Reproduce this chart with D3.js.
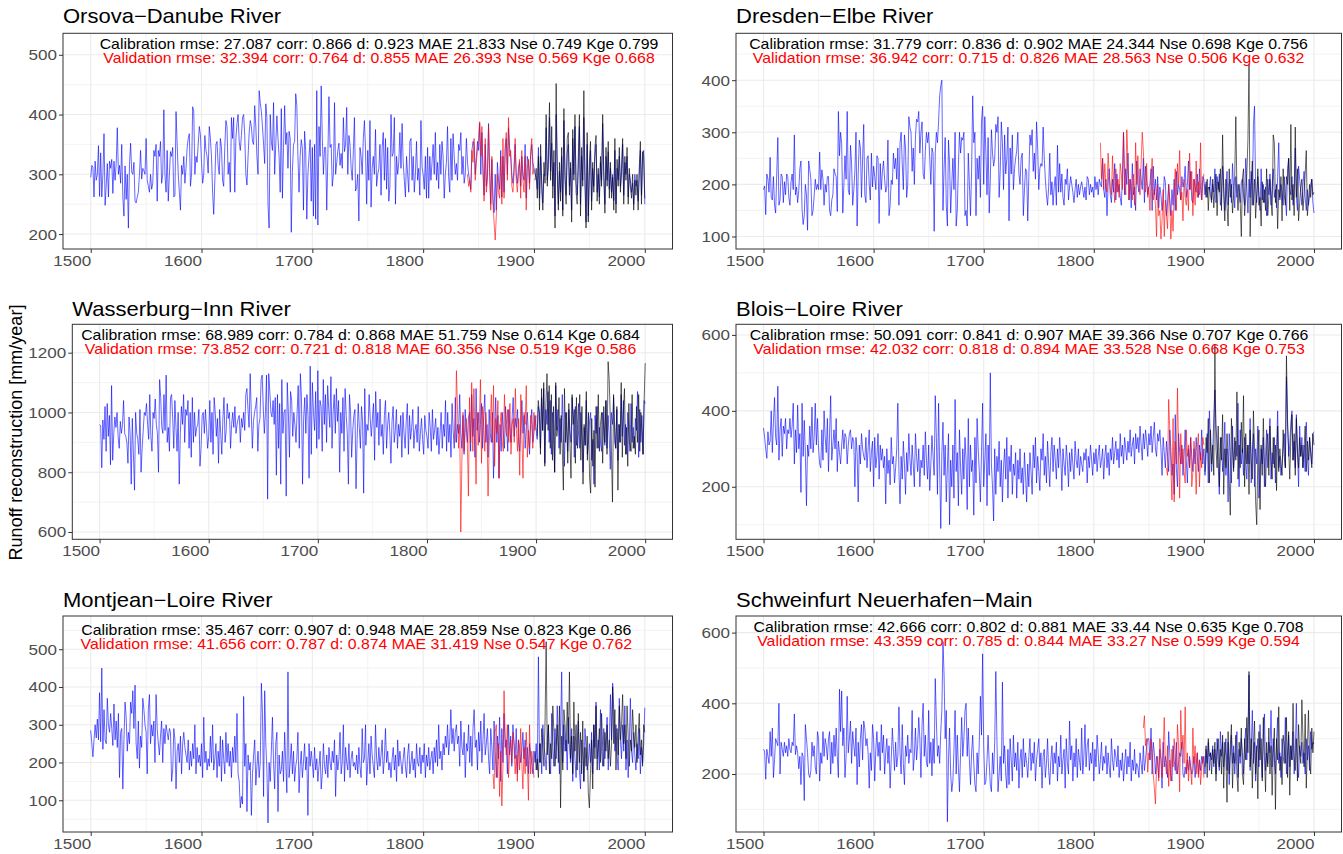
<!DOCTYPE html>
<html><head><meta charset="utf-8">
<script src="https://cdn.jsdelivr.net/npm/d3@7"></script>
<style>body{margin:0;background:#fff}svg text{font-family:"Liberation Sans",Arial,Helvetica,sans-serif}</style>
</head><body><svg id="c" width="1343" height="854"></svg>
<script>
// ---------------- DATA ----------------
const titles = ["Orsova\u2212Danube River","Dresden\u2212Elbe River","Wasserburg\u2212Inn River","Blois\u2212Loire River","Montjean\u2212Loire River","Schweinfurt Neuerhafen\u2212Main"];
const calStats = [
"Calibration rmse: 27.087 corr: 0.866 d: 0.923 MAE 21.833 Nse 0.749 Kge 0.799",
"Calibration rmse: 31.779 corr: 0.836 d: 0.902 MAE 24.344 Nse 0.698 Kge 0.756",
"Calibration rmse: 68.989 corr: 0.784 d: 0.868 MAE 51.759 Nse 0.614 Kge 0.684",
"Calibration rmse: 50.091 corr: 0.841 d: 0.907 MAE 39.366 Nse 0.707 Kge 0.766",
"Calibration rmse: 35.467 corr: 0.907 d: 0.948 MAE 28.859 Nse 0.823 Kge 0.86",
"Calibration rmse: 42.666 corr: 0.802 d: 0.881 MAE 33.44 Nse 0.635 Kge 0.708"];
const valStats = [
"Validation rmse: 32.394 corr: 0.764 d: 0.855 MAE 26.393 Nse 0.569 Kge 0.668",
"Validation rmse: 36.942 corr: 0.715 d: 0.826 MAE 28.563 Nse 0.506 Kge 0.632",
"Validation rmse: 73.852 corr: 0.721 d: 0.818 MAE 60.356 Nse 0.519 Kge 0.586",
"Validation rmse: 42.032 corr: 0.818 d: 0.894 MAE 33.528 Nse 0.668 Kge 0.753",
"Validation rmse: 41.656 corr: 0.787 d: 0.874 MAE 31.419 Nse 0.547 Kge 0.762",
"Validation rmse: 43.359 corr: 0.785 d: 0.844 MAE 33.27 Nse 0.599 Kge 0.594"];
const reconStart = 1500;
const calStart = 1901;
const valStart = [1840, 1806, 1826, 1866, 1863, 1845];
const xTicks = [1500,1600,1700,1800,1900,2000];
const yTicks = [[200,300,400,500],[100,200,300,400],[600,800,1000,1200],[200,400,600],[100,200,300,400,500],[200,400,600]];
const yLabel = "Runoff reconstruction [mm/year]";

const orsovaRecon = [
295,315,312,262,322,290,300,348,263,336,
262,300,368,248,282,318,262,322,310,325,
268,322,290,318,378,300,315,285,350,262,
230,314,258,300,210,316,352,304,300,320,
255,252,262,270,300,340,292,310,306,300,
360,290,280,270,300,275,285,340,330,350,
255,340,330,355,285,300,408,300,270,340,
255,300,338,330,345,262,265,405,350,300,
270,240,315,300,330,285,310,344,360,368,
280,300,413,405,300,330,320,350,380,366,
320,285,300,365,340,330,302,380,360,330,
270,233,288,350,355,315,300,360,345,290,
280,345,390,380,300,320,270,395,360,395,
270,360,385,400,355,340,365,395,400,365,
300,282,330,370,390,380,355,350,415,380,
330,300,440,420,405,380,350,318,418,395,
250,210,400,355,340,420,300,350,398,360,
330,270,410,260,345,415,350,370,310,372,
360,203,305,350,355,435,415,330,270,330,
358,343,240,372,340,225,300,330,358,255,
345,230,350,225,440,215,380,330,448,360,
300,345,345,240,330,430,345,350,280,300,
420,300,320,340,352,315,335,310,395,338,
350,412,300,365,350,310,290,340,395,272,
278,300,222,345,330,300,360,390,340,250,
340,290,390,245,310,330,300,375,280,300,
310,350,265,345,370,290,360,275,345,255,
280,400,330,335,395,250,330,300,320,370,
310,385,320,290,262,330,300,270,355,360,
290,330,270,300,355,290,310,265,390,312,
300,275,330,260,345,260,330,290,320,350,
300,370,290,320,276,350,300,355,330,260,
300,320,380,296,270,360,290,368,330,300,
318,290,350,340,370,300,330,285,300,360,
320,300,290,275,340,355,348,300,330,355,
340,385,300,370,310,265,350,280,300,385,
310,250,325,260,236,300,240,320,290,275,
340,262,330,270,340,360,300,378,345,330,
300,285,310,350,300,285,310,320,280,330,
300,290,350,260,330,320,285,330,350,320,
310,300,295,275,345,260,330,290,252,300,
298,378,290,312,395,305,352,280,320,230,
400,315,250,305,270,330,240,390,300,265,
335,350,280,310,240,360,300,380,285,265,
310,380,250,330,290,395,300,220,350,230,
300,340,255,310,280,330,350,270,300,262,
320,290,385,300,250,330,290,338,275,310,
270,300,256,340,250,310,290,330,280,300,
350,265,320,300,330,262,300,290,270,285,
250,300,280,290,255,300,340,265,330,340,
250];
const orsovaCal = [
290,310,260,330,240,350,275,240,320,285,
400,280,330,420,290,380,260,340,210,452,
300,240,320,255,345,230,410,290,250,360,
370,265,320,220,375,290,400,270,250,330,
400,230,345,280,440,285,210,370,220,320,
355,240,320,270,345,365,255,310,250,330,
280,400,300,235,345,280,355,260,320,260,
295,240,360,235,325,280,345,270,310,360,
250,330,290,345,250,310,280,260,300,240,
290,265,300,240,310,355,250,338,330,260];
const orsovaVal = [
300,280,290,270,340,320,360,290,320,340,
360,388,330,380,300,255,360,270,290,380,
300,240,330,250,220,190,230,300,270,260,
330,250,360,260,345,370,290,395,330,340,
280,270,300,360,290,270,300,325,260,340,
290,270,330,240,310,325,275,340,360,300,
310];

const dresdenRecon = [
190,197,142,220,210,185,252,175,170,215,
160,145,220,290,160,170,220,215,165,205,
180,220,215,175,160,205,220,190,295,180,
195,165,188,230,245,152,123,140,200,180,
112,245,228,210,140,150,178,210,190,200,
190,262,190,228,210,160,200,185,215,215,
150,140,170,180,230,220,215,148,340,255,
300,278,145,200,255,210,340,190,180,275,
240,160,190,225,300,120,220,285,270,175,
250,315,180,165,250,255,200,170,260,195,
235,215,190,255,250,125,240,190,225,245,
210,185,195,285,140,160,208,200,260,230,
250,210,270,160,280,300,240,190,295,270,
175,200,330,310,300,225,270,200,290,325,
320,340,260,300,320,220,210,265,300,280,
300,250,200,270,260,110,260,300,280,320,
370,390,400,150,230,290,160,120,285,240,
145,200,250,190,300,120,150,235,300,260,
290,285,300,140,150,120,260,200,140,225,
370,280,300,140,250,210,255,175,320,350,
200,330,260,180,290,145,210,305,260,235,
250,315,300,330,175,225,320,280,190,295,
220,250,310,130,270,220,295,190,230,250,
265,300,220,200,250,260,140,190,230,225,
130,215,295,275,305,225,260,210,320,270,
190,230,240,235,310,250,210,180,160,195,
260,180,205,160,195,215,160,275,185,240,
185,220,175,160,210,200,230,170,195,215,
200,185,165,190,210,175,200,180,195,205,
190,175,195,170,215,210,180,200,185,195,
175,215,190,205,180,210,200,195,250,190,
175,210,140,200,230,180,165,210,185,240,
170,220,185,200,175,160,215,300,180,230,
200,260,170,210,155,240,180,195,150,245,
200,185,230,210,190,250,165,235,205,180,
195,200,230,150,235,180,210,170,215,155,
195,180,150,170,215,205,140,165,200,170,
140,190,160,210,150,225,180,200,190,170,
215,195,205,235,175,200,245,190,225,170,
165,210,195,185,220,175,230,190,170,215,
210,180,205,175,195,190,215,170,200,185,
230,165,215,190,220,160,175,235,200,150,
180,225,160,200,210,165,240,190,155,215,
175,200,185,165,205,210,180,160,250,195,
145,210,175,225,160,315,350,190,165,215,
185,150,230,170,200,165,195,140,210,180,
220,160,195,230,175,190,155,215,280,170,
200,185,160,215,175,140,230,250,190,180,
215,160,195,270,175,150,235,210,185,160,
200,225,175,150,190,160,180,200,210,165,
145];
const dresdenCal = [
200,175,210,150,195,180,165,210,155,190,
220,140,205,185,230,150,295,180,130,210,
160,120,230,175,200,145,180,215,330,190,
150,200,165,100,210,230,140,175,220,285,
430,100,200,245,160,210,135,180,230,160,
175,120,205,165,190,150,230,140,175,210,
170,140,295,280,165,200,115,190,175,215,
130,230,180,160,215,200,250,150,315,170,
200,140,310,175,230,130,165,195,210,150,
180,220,265,140,165,200,175,210,180,185];
const dresdenVal = [
280,210,250,190,240,200,185,260,220,190,
180,255,200,165,230,185,210,175,240,220,
190,300,210,180,305,250,170,210,195,170,
220,160,280,200,255,200,180,240,300,265,
210,185,240,175,195,150,210,250,170,190,
160,100,200,140,150,95,130,190,100,170,
140,115,200,170,95,150,110,180,230,150,
240,200,265,170,185,130,210,175,160,190,
150,260,190,225,140,210,160,245,175,205,
180,280,170,200,220];

const wasserRecon = [
960,955,815,975,910,1020,870,1030,920,990,
825,1090,840,930,985,950,1000,920,880,970,
930,960,1040,930,920,900,830,985,930,760,
980,860,740,1000,930,910,860,1010,800,880,
940,1000,990,1030,960,910,1060,920,870,1000,
980,1045,960,930,800,1110,1050,950,930,1060,
940,1125,900,950,870,1050,1060,980,880,1040,
950,870,1000,760,930,1020,960,1060,900,1010,
990,1040,880,1000,850,1050,900,1000,920,950,
960,1010,820,880,990,1000,930,1010,950,880,
920,1040,900,1000,860,1050,1000,920,980,830,
1010,930,860,980,1050,900,940,1030,980,1000,
880,960,1000,950,1020,930,960,980,990,900,
980,950,1000,940,1060,1080,1010,950,1130,1000,
880,970,1000,1020,1050,870,960,980,1110,1125,
1015,930,1000,1125,710,1130,1070,1000,985,1040,
960,1050,790,1060,880,1030,760,1110,930,1000,
1010,720,1100,1000,850,1070,1040,920,1000,960,
900,1000,1090,880,1130,1050,760,980,1050,930,
1060,990,780,1155,860,1100,1000,940,1070,880,
1140,910,1040,1020,870,1110,960,1060,900,1090,
1010,950,1120,880,1000,1060,930,1080,970,1040,
800,1000,930,1050,870,1080,990,930,760,1060,
1000,850,940,990,1010,745,910,1030,950,880,
1020,970,730,1080,890,960,940,1060,980,920,
980,1030,840,1070,950,1000,890,1045,920,960,
860,990,1040,880,960,1000,930,830,970,1020,
900,940,1010,880,960,920,990,850,1000,930,
880,970,1030,860,990,910,950,1010,880,940,
960,900,1020,870,930,980,910,860,990,940,
920,880,1000,950,870,1010,910,940,980,890,
950,860,930,1000,880,960,920,1040,870,1000,
900,960,850,1030,940,880,1050,900,960,930,
1060,930,880,990,860,1010,950,900,980,1000,
870,1060,920,980,850,1080,940,1000,900,960,
1030,880,990,1060,900,960,850,1010,930,900,
1000,780,940,1050,900,990,780,960,870,1000,
930,880,1020,960,870,1010,940,900,980,1050,
920,980,950,1010,900,870,960,1040,930,990,
880,950,1000,920,860,960,1010,900,930,990,
950,910,1020,1000,880,1050,940,1080,830,1010,
960,1070,900,1040,860,1000,920,800,1090,940,
1010,880,980,900,1060,920,820,1000,940,870,
1010,940,900,1050,980,850,1020,890,960,1030,
880,1000,920,800,950,890,1040,860,900,970,
1000,840,910,760,990,930,1020,880,950,900,
870,1000,940,890,1040,880,990,920,810,1000,
960,1050,900,880,1010,840,960,900,1060,920,
1040,890,960,860,1000,930,870,1030,900,950,
880,980,940,1070,850,1010,900,990,860,1040,
1030];
const wasserCal = [
920,1040,1000,860,1080,940,1100,820,1030,1130,
940,1090,880,1060,840,1020,800,1100,920,960,
1050,860,990,880,740,1080,900,1000,830,1030,
900,780,1060,960,1010,830,1050,880,940,1060,
840,1020,760,960,890,1070,840,1000,780,730,
980,820,940,750,1020,880,1060,870,960,1000,
830,1020,900,1040,860,1170,1110,980,870,700,
1060,950,880,1020,740,960,900,1100,850,1000,
1080,860,950,820,1030,900,870,1060,880,920,
860,1020,900,1060,870,1000,940,860,1040,1165];
const wasserVal = [
900,1140,1010,880,960,600,840,1000,870,930,
980,900,720,1050,900,1100,870,1080,930,760,
1000,890,960,1110,830,1020,960,870,1000,940,
720,890,960,1060,900,1090,820,980,930,1040,
780,960,1000,900,870,1060,950,920,1010,900,
1030,860,960,980,900,1080,940,870,980,790,
1060,920,780,1000,960,1090,850,940,880,990,
960,880,1000,940,990];

const bloisRecon = [
355,330,300,275,345,310,320,400,290,370,
435,330,310,465,270,350,380,280,360,340,
380,300,350,340,380,330,360,420,260,350,
290,415,300,340,185,420,280,375,290,150,
310,280,360,300,410,290,330,420,310,380,
300,260,250,350,270,400,330,290,380,240,
340,440,270,310,350,300,380,240,320,290,
260,310,350,300,340,330,260,310,340,350,
300,330,320,200,330,290,160,310,260,340,
300,280,270,330,250,300,350,240,290,320,
200,330,250,280,340,220,310,270,300,250,
280,155,300,235,270,205,330,260,280,210,
250,300,420,240,155,280,220,320,260,180,
290,240,340,270,230,310,260,200,340,280,
240,300,200,270,250,310,230,345,270,220,
310,190,260,335,280,230,440,330,180,420,
250,90,290,370,230,310,160,250,340,100,
270,200,310,170,430,240,290,150,350,250,
180,300,220,330,270,140,380,200,310,240,
270,125,330,210,380,300,240,160,290,420,
200,270,340,150,310,230,500,260,200,110,
300,180,280,240,320,200,270,160,250,300,
220,330,170,280,240,310,180,260,230,290,
170,270,220,300,210,250,180,290,230,160,
260,200,290,240,180,310,250,330,210,280,
240,190,300,270,340,230,280,210,320,260,
200,290,330,240,310,270,220,300,250,330,
280,190,300,260,230,310,270,200,290,240,
300,260,220,320,270,250,300,230,280,260,
240,290,270,300,210,280,250,310,270,230,
290,260,300,240,280,310,250,270,300,220,
280,310,250,290,230,300,270,330,260,290,
320,270,300,250,340,280,310,260,330,300,
270,320,290,350,280,310,330,260,340,300,
330,290,360,310,270,340,300,350,320,280,
340,310,360,290,330,370,300,280,340,320,
350,300,230,330,290,250,320,280,240,350,
300,230,260,180,390,250,200,340,290,260,
310,230,280,350,270,210,300,250,330,280,
240,300,260,330,280,240,310,270,350,260,
300,230,280,340,210,400,320,240,290,380,
455,360,310,260,180,300,330,240,280,370,
230,300,160,340,280,210,360,250,300,320,
280,420,200,350,260,300,230,330,270,220,
310,260,380,210,290,340,200,300,260,360,
170,230,300,260,330,200,280,350,250,300,
380,220,290,260,330,210,300,400,250,280,
230,260,300,340,250,490,380,280,310,370,
400,270,320,250,390,300,200,360,280,330,
250,310,240,370,280,230,330,290,260,340,
345];
const bloisCal = [
240,330,290,380,210,350,260,310,230,575,
300,250,360,200,330,270,390,180,300,250,
340,280,220,125,380,300,240,330,270,450,
220,310,250,370,290,440,200,340,260,310,
180,350,270,220,400,300,160,100,280,350,
140,310,230,380,260,200,300,340,230,360,
270,220,330,250,310,190,360,240,300,260,
230,350,280,250,545,360,300,220,330,390,
270,340,230,380,290,250,330,280,310,250,
300,360,240,320,270,330,290,250,340,310];
const bloisVal = [
250,230,430,350,250,165,380,160,320,260,
460,300,170,340,260,300,240,210,350,280,
310,250,330,200,240,320,280,180,300,340,
200,290,250,330,310];

const montRecon = [
285,250,215,260,300,265,315,260,385,255,
450,235,340,260,250,370,300,280,330,290,
245,355,260,310,240,330,160,280,290,130,
260,360,320,230,280,250,360,330,390,290,
405,250,210,310,185,270,240,370,340,300,
280,170,340,380,250,300,270,310,200,380,
290,250,220,270,310,200,290,250,300,280,
260,290,280,150,180,290,260,130,230,250,
200,270,170,250,280,240,220,200,260,180,
230,190,250,210,300,170,240,200,220,190,
250,160,320,200,230,180,210,190,270,200,
300,180,210,250,160,230,190,270,150,260,
210,170,280,200,250,190,230,160,240,200,
270,200,330,170,150,80,110,90,375,190,
250,70,220,180,200,60,170,220,260,140,
190,230,160,200,410,330,110,390,250,180,
40,200,150,230,320,200,130,250,280,70,
220,170,180,230,150,280,200,120,440,160,
200,250,170,230,150,190,210,280,120,190,
230,160,200,250,180,215,60,250,190,230,
200,160,240,180,210,150,190,230,130,170,
250,190,170,220,160,240,200,180,230,200,
260,110,220,180,210,280,170,200,300,150,
240,200,180,250,160,210,230,190,200,180,
220,170,240,190,160,290,200,210,300,140,
200,250,170,270,220,190,160,300,210,180,
240,190,220,260,170,210,290,200,230,180,
200,160,210,240,180,220,150,260,190,230,
200,170,210,240,190,160,220,250,170,200,
230,180,210,160,250,200,190,240,170,220,
200,250,160,220,190,240,180,210,230,170,
240,200,260,190,300,210,230,180,250,220,
270,240,300,220,260,340,250,290,230,280,
300,250,270,190,310,240,220,280,160,250,
230,300,200,270,190,290,340,240,260,180,
280,230,310,200,260,330,220,250,290,210,
170,290,240,180,310,230,160,270,210,320,
150,290,200,330,240,260,170,300,220,270,
190,300,250,210,290,170,260,240,200,230,
280,210,260,190,240,170,250,220,200,170,
230,200,250,180,480,200,250,170,300,240,
220,180,260,300,200,170,330,240,190,290,
210,350,250,170,280,440,200,300,230,260,
180,320,240,200,290,150,270,210,160,250,
310,180,130,260,220,150,290,240,180,200,
250,200,280,170,300,240,360,210,260,180,
340,230,190,290,210,260,320,180,250,380,
260,410,340,230,300,220,180,370,260,210,
300,230,350,180,260,160,250,370,230,200,
280,220,180,250,210,290,170,240,200,250,
345];
const montCal = [
230,180,210,160,250,200,290,240,190,310,
520,220,300,170,250,210,350,280,190,240,
300,200,350,80,270,180,340,300,230,360,
250,440,210,270,170,360,230,300,180,330,
200,280,170,310,150,240,190,270,120,80,
170,260,130,300,210,350,180,240,290,200,
330,240,190,280,230,300,210,260,190,250,
400,250,340,180,290,220,350,260,300,380,
250,300,210,350,270,190,260,230,340,280,
240,300,200,270,330,220,260,190,300,280];
const montVal = [
170,130,280,300,160,250,110,230,85,190,
390,270,220,300,160,230,260,200,280,250,
170,220,150,260,180,290,200,130,240,170,
280,210,100,300,170,230,200,160];

const schwRecon = [
270,265,185,270,250,230,320,250,330,190,
240,300,290,280,400,200,290,270,250,290,
260,280,250,300,270,260,290,280,370,255,
280,260,215,250,170,260,250,125,340,300,
260,200,190,210,290,250,280,220,200,320,
300,180,260,230,320,250,300,280,240,300,
320,200,290,230,310,250,330,250,190,440,
320,435,280,330,190,250,420,260,300,350,
230,320,280,250,330,170,290,220,300,340,
240,350,330,280,300,260,160,260,210,340,
300,180,270,320,250,290,210,340,260,310,
200,260,300,230,280,160,240,330,270,210,
290,220,250,390,260,200,340,230,170,280,
250,310,230,270,260,380,210,250,330,240,
280,360,300,190,340,400,250,310,230,220,
380,230,290,195,300,230,470,350,250,280,
230,320,380,575,480,300,380,65,240,330,
200,150,180,270,380,200,310,220,150,260,
360,250,300,380,400,250,330,240,170,260,
310,230,170,150,260,200,290,420,310,540,
280,170,180,240,310,230,170,150,260,200,
290,490,300,150,200,250,180,460,230,280,
200,160,270,170,300,240,180,310,220,260,
210,290,160,240,270,190,300,220,260,230,
190,250,300,210,260,230,290,180,240,270,
300,220,260,160,250,270,190,230,300,210,
170,240,280,200,260,230,290,180,250,220,
310,200,240,270,160,300,230,200,350,240,
280,180,260,220,300,190,270,240,210,330,
200,250,340,220,280,300,210,260,230,290,
180,270,220,310,260,200,240,290,210,250,
230,280,200,260,220,190,300,240,210,270,
250,220,280,190,240,210,260,180,230,270,
200,250,220,290,180,240,210,270,200,230,
220,190,260,230,200,280,210,240,280,300,
300,240,330,200,290,260,200,250,230,190,
270,240,160,290,220,250,230,190,320,260,
200,180,280,240,210,290,200,230,260,250,
290,200,190,220,200,240,210,250,220,200,
210,250,190,230,260,200,240,210,250,230,
250,200,270,230,290,210,260,240,280,220,
270,200,300,240,210,320,250,290,220,260,
300,210,290,170,250,310,230,280,200,260,
320,190,270,230,300,260,200,280,330,240,
310,480,210,270,380,230,290,180,260,300,
220,340,250,190,300,370,210,260,230,290,
260,380,220,300,240,200,290,360,230,260,
190,300,250,230,360,200,260,310,220,280,
240,320,200,260,400,230,190,280,250,290,
230,260,200,300,240,280,210,320,270,290,
285];
const schwCal = [
220,280,190,300,250,260,200,270,230,290,
180,260,300,220,270,200,310,160,290,250,
120,320,200,280,340,160,260,230,310,200,
150,290,250,330,200,170,300,240,360,260,
490,220,300,160,270,350,200,280,130,320,
240,300,180,360,250,150,290,220,330,200,
280,140,260,330,100,300,240,390,210,250,
170,310,280,230,360,190,320,140,280,240,
400,250,210,300,180,340,260,230,410,300,
220,370,160,270,380,240,200,330,260,320];
const schwVal = [
330,365,280,300,205,260,240,300,270,200,
160,115,220,250,180,300,250,190,270,360,
230,200,280,165,240,180,270,220,300,250,
200,340,280,150,380,270,310,230,390,200,
260,180,240,210,170,330,230,280,200,260,
190,240,170,220,250,190];

const recon = [orsovaRecon, dresdenRecon, wasserRecon, bloisRecon, montRecon, schwRecon];
const calObs = [orsovaCal, dresdenCal, wasserCal, bloisCal, montCal, schwCal];
const valObs = [orsovaVal, dresdenVal, wasserVal, bloisVal, montVal, schwVal];

// ---------------- LAYOUT ----------------
const boxes = [ // left, right, top, bottom
 [63,672.5,33.3,249],[736,1341.5,33.3,249],
 [72.3,672.5,324.3,539.3],[736,1341.5,324.3,539.3],
 [63,672.5,616,832],[736,1341.5,616,832]];
const yDomains = [[175,536],[76,490],[575.6,1295],[61.6,628],[16,588],[36,647]];
const textCx = [379,1028.5,360.5,1029,356.3,1028.5];
const calBase = [49,49,339.5,339.5,635,631.7];
const valBase = [63.3,63.3,353.5,353.7,649,645.7];
const titleBase = [23.3,23.3,316,316,606.7,606.7];
const SX = 1.1; // horizontal stretch of text as in reference

const svg = d3.select('#c');
const defs = svg.append('defs');

function addText(g, x, y, str, size, fill, anchor){
  return g.append('text').attr('transform',`translate(${x},${y}) scale(${SX},1)`)
    .attr('text-anchor',anchor).attr('font-size',size).attr('fill',fill).text(str);
}

boxes.forEach((b,i)=>{
  const [L,R,T,B] = b;
  const x = d3.scaleLinear().domain([1475,2025]).range([L,R]);
  const y = d3.scaleLinear().domain(yDomains[i]).range([B,T]);
  const g = svg.append('g');
  // grid
  const yt = yTicks[i], step = yt[1]-yt[0];
  const yMinor = yt.map(t=>t-step/2).concat([yt[yt.length-1]+step/2]).filter(v=>v>yDomains[i][0]&&v<yDomains[i][1]);
  const xMinor = xTicks.map(t=>t-50).concat([2050]).filter(v=>v>1475&&v<2025);
  g.selectAll('.ymn').data(yMinor).join('line').attr('x1',L).attr('x2',R).attr('y1',d=>y(d)).attr('y2',d=>y(d)).attr('stroke','#EBEBEB').attr('stroke-width',0.6);
  g.selectAll('.xmn').data(xMinor).join('line').attr('y1',T).attr('y2',B).attr('x1',d=>x(d)).attr('x2',d=>x(d)).attr('stroke','#EBEBEB').attr('stroke-width',0.6);
  g.selectAll('.ymj').data(yt).join('line').attr('x1',L).attr('x2',R).attr('y1',d=>y(d)).attr('y2',d=>y(d)).attr('stroke','#EBEBEB').attr('stroke-width',1.1);
  g.selectAll('.xmj').data(xTicks).join('line').attr('y1',T).attr('y2',B).attr('x1',d=>x(d)).attr('x2',d=>x(d)).attr('stroke','#EBEBEB').attr('stroke-width',1.1);

  // lines
  defs.append('clipPath').attr('id','cp'+i).append('rect').attr('x',L).attr('y',T).attr('width',R-L).attr('height',B-T);
  const lg = g.append('g').attr('clip-path',`url(#cp${i})`);
  const line = (start)=>d3.line().x((d,k)=>x(start+k)).y(d=>y(d));
  lg.append('path').datum(recon[i]).attr('d',line(reconStart)).attr('fill','none').attr('stroke','#0000FF').attr('stroke-opacity',0.6).attr('stroke-width',1);
  lg.append('path').datum(valObs[i]).attr('d',line(valStart[i])).attr('fill','none').attr('stroke','#FF0000').attr('stroke-opacity',0.6).attr('stroke-width',1);
  lg.append('path').datum(calObs[i]).attr('d',line(calStart)).attr('fill','none').attr('stroke','#000000').attr('stroke-opacity',0.6).attr('stroke-width',1);

  // annotations
  addText(g, textCx[i], calBase[i], calStats[i], 14.4, '#000', 'middle');
  addText(g, textCx[i], valBase[i], valStats[i], 14.4, '#FF0000', 'middle');

  // border
  g.append('rect').attr('x',L).attr('y',T).attr('width',R-L).attr('height',B-T).attr('fill','none').attr('stroke','#333333').attr('stroke-width',1);

  // axes
  const ax = g.append('g').attr('transform',`translate(0,${B})`).call(d3.axisBottom(x).tickValues(xTicks).tickSize(4).tickFormat(d3.format('d')));
  ax.select('.domain').remove();
  ax.selectAll('.tick line').attr('stroke','#333333');
  ax.selectAll('.tick text').attr('fill','#4D4D4D').attr('font-size',15.5).attr('text-anchor','end')
    .attr('y',17).attr('dy',null).attr('transform',`scale(${SX},1)`);
  const ay = g.append('g').attr('transform',`translate(${L},0)`).call(d3.axisLeft(y).tickValues(yt).tickSize(4).tickPadding(1.5).tickFormat(d3.format('d')));
  ay.select('.domain').remove();
  ay.selectAll('.tick line').attr('stroke','#333333');
  ay.selectAll('.tick text').attr('fill','#4D4D4D').attr('font-size',15.5).attr('transform',`scale(${SX},1)`);

  // title
  addText(g, L, titleBase[i], titles[i], 20, '#000', 'start');
});

svg.append('text').attr('transform','translate(22,432.5) rotate(-90)').attr('text-anchor','middle')
  .attr('font-size',18).attr('fill','#000').text(yLabel);
</script>
</body></html>
